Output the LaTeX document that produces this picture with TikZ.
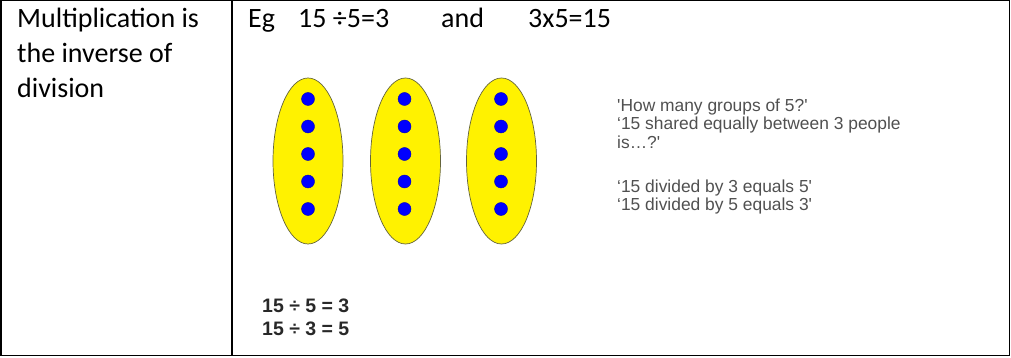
\documentclass[tikz,border=0pt]{standalone}
\usepackage{fontspec}
\setmainfont{Carlito}
\newfontfamily\arialf{Liberation Sans}
\begin{document}
\begin{tikzpicture}[x=1pt,y=-1pt,
  cal/.style={anchor=base west,inner sep=0pt,font=\fontsize{28}{34}\selectfont},
  note/.style={anchor=base west,inner sep=0pt,text=notegray,font=\arialf\fontsize{17.4}{19}\selectfont},
  eqn/.style={anchor=base west,inner sep=0pt,text=eqgray,font=\arialf\bfseries\fontsize{19.5}{23}\selectfont},
  group/.style={draw=ellline,line width=0.7pt,fill=yellow},
  dot/.style={fill=dotblue,draw=dotblue!70!black,line width=0.4pt}]
\definecolor{notegray}{RGB}{80,80,80}
\definecolor{eqgray}{RGB}{40,40,40}
\definecolor{ellline}{RGB}{100,100,60}
\definecolor{dotblue}{RGB}{0,0,255}
\useasboundingbox (0,0) rectangle (1011,358);
% table
\draw[line width=1.5pt] (0.75,0.75) rectangle (1009.5,355.5);
\draw[line width=1.5pt] (232,0.75) -- (232,355.5);
% left column
\node[cal] (l1) at (17,28) {Multiplication is};
\node[cal] (l2) at (17,63) {the inverse of};
\node[cal] (l3) at (17,98) {division};
% top line
\node[cal] (eg) at (248,28) {Eg};
\node[cal] (e1) at (298,28) {15 ÷5=3};
\node[cal] (and) at (441,28) {and};
\node[cal] (e2) at (528,28) {3x5=15};
% groups
\foreach \cx/\dx [count=\i] in {308/308,405.5/404.5,501.5/501}{
  \filldraw[group] (\cx,161) ellipse [x radius=35,y radius=83];
  \foreach \dy in {99,126.5,154,181.5,209}
    \filldraw[dot] (\dx,\dy) circle [radius=6.5];
}
% notes
\node[note] (n1) at (617,111.5) {'How many groups of 5?'};
\node[note] (n2) at (617,130) {‘15 shared equally between 3 people};
\node[note] (n3) at (617,148.5) {is…?'};
\node[note] (n4) at (617,192.5) {‘15 divided by 3 equals 5'};
\node[note] (n5) at (617,211) {‘15 divided by 5 equals 3'};
% equations
\node[eqn] (q1) at (262,312) {15 ÷ 5 = 3};
\node[eqn] (q2) at (262,335) {15 ÷ 3 = 5};
\end{tikzpicture}
\end{document}
